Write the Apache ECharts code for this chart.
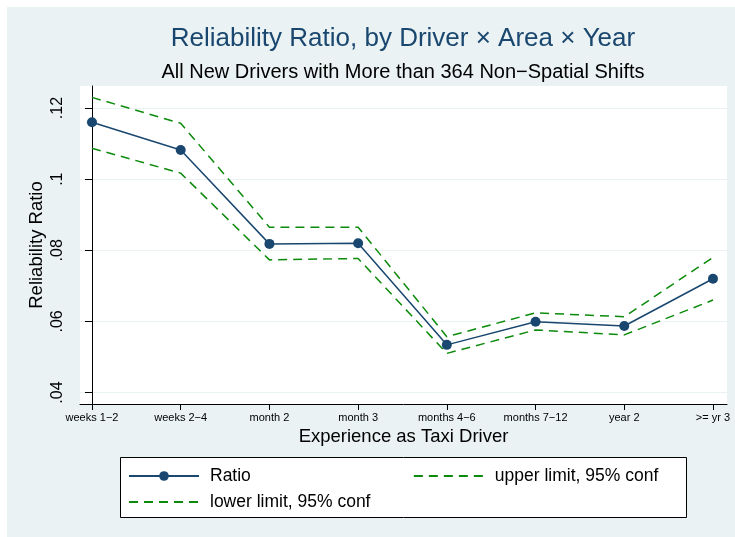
<!DOCTYPE html>
<html>
<head>
<meta charset="utf-8">
<script src="https://cdn.jsdelivr.net/npm/echarts@6/dist/echarts.min.js"></script>
<style>
  html, body { margin: 0; padding: 0; background: #fff; }
  #app { position: absolute; left: 7px; top: 7px; width: 728px; height: 530px; }
</style>
</head>
<body>
<div id="app"></div>
<script>
// experience categories along x
const categories = ["weeks 1\u22122", "weeks 2\u22124", "month 2", "month 3",
  "months 4\u22126", "months 7\u221212", "year 2", ">= yr 3"];

// reliability ratio and its 95% confidence band
const ratio = [0.116, 0.1082, 0.0818, 0.0820, 0.0534, 0.0599, 0.0587, 0.0720];
const upper = [0.1230, 0.1157, 0.0865, 0.0865, 0.0557, 0.0624, 0.0613, 0.0780];
const lower = [0.1087, 0.1017, 0.0773, 0.0777, 0.0510, 0.0576, 0.0562, 0.0660];

const yTicks = [0.04, 0.06, 0.08, 0.1, 0.12];
const yTickLabels = [".04", ".06", ".08", ".1", ".12"];

const FONT = "Liberation Sans, Arial, Helvetica, sans-serif";
const NAVY = "#1a476f";
const GREEN = "#0b8a0b";

function pairs(values) {
  return values.map((v, i) => [i, v]);
}

// dashed series: hide the dot ECharts puts in a line legend icon
const noDot = { opacity: 0 };

const chart = echarts.init(document.getElementById("app"));

chart.setOption({
  backgroundColor: "#eaf2f3",
  animation: false,
  textStyle: { fontFamily: FONT },
  title: [
    {
      text: "Reliability Ratio, by Driver \u00d7 Area \u00d7 Year",
      left: 396, top: 19, padding: 0, textAlign: "center",
      textStyle: { color: NAVY, fontSize: 26, fontWeight: "normal", fontFamily: FONT }
    },
    {
      text: "All New Drivers with More than 364 Non\u2212Spatial Shifts",
      left: 396, top: 55, padding: 0, textAlign: "center",
      textStyle: { color: "#000", fontSize: 20, fontWeight: "normal", fontFamily: FONT }
    }
  ],
  grid: {
    left: 73, right: 8, top: 79, bottom: 133,
    show: true, backgroundColor: "#fff", borderWidth: 0
  },
  xAxis: {
    type: "value",
    min: -0.135, max: 7.158,
    name: "Experience as Taxi Driver",
    nameLocation: "middle",
    nameGap: 23,
    nameMoveOverlap: false,
    nameTextStyle: { color: "#000", fontSize: 18.5, fontFamily: FONT },
    axisLine: { lineStyle: { color: "#000", width: 1 } },
    axisTick: { length: 6, customValues: categories.map((c, i) => i), lineStyle: { color: "#000" } },
    axisLabel: {
      customValues: categories.map((c, i) => i),
      formatter: v => categories[Math.round(v)],
      color: "#000", fontSize: 11, margin: 8, fontFamily: FONT
    },
    splitLine: { show: false }
  },
  yAxis: {
    type: "value",
    min: 0.03677, max: 0.1262,
    name: "Reliability Ratio",
    nameLocation: "middle",
    nameRotate: 90,
    nameGap: 34,
    nameMoveOverlap: false,
    nameTextStyle: { color: "#000", fontSize: 18.5, fontFamily: FONT },
    axisLine: { show: true, lineStyle: { color: "#000", width: 1 } },
    axisTick: { show: true, length: 7, customValues: yTicks, lineStyle: { color: "#000" } },
    axisLabel: {
      customValues: yTicks,
      rotate: 90,
      formatter: v => yTickLabels[yTicks.findIndex(t => Math.abs(t - v) < 1e-6)],
      color: "#000", fontSize: 16, margin: 14, fontFamily: FONT
    },
    splitLine: { show: true, lineStyle: { color: "#eaf2f3", width: 1 } }
  },
  legend: [
    {
      data: ["Ratio", { name: "upper limit, 95% conf", itemStyle: noDot }],
      left: 121, top: 460, padding: 0,
      itemWidth: 70, itemHeight: 12, itemGap: 162,
      textStyle: { color: "#000", fontSize: 17.5, padding: [0, 0, 0, 6], fontFamily: FONT }
    },
    {
      data: [{ name: "lower limit, 95% conf", itemStyle: noDot }],
      left: 121, top: 486, padding: 0,
      itemWidth: 70, itemHeight: 12,
      textStyle: { color: "#000", fontSize: 17.5, padding: [0, 0, 0, 6], fontFamily: FONT }
    }
  ],
  graphic: [
    {
      type: "rect", z: 0,
      shape: { x: 113.5, y: 450.5, width: 566, height: 60 },
      style: { fill: "#fff", stroke: "#000", lineWidth: 1 }
    }
  ],
  series: [
    {
      name: "Ratio", type: "line", data: pairs(ratio),
      symbol: "circle", symbolSize: 10, showSymbol: true,
      itemStyle: { color: NAVY },
      lineStyle: { color: NAVY, width: 1.5 },
      z: 5
    },
    {
      name: "upper limit, 95% conf", type: "line", data: pairs(upper),
      symbol: "none",
      itemStyle: { color: GREEN },
      lineStyle: { color: GREEN, width: 1.5, type: [9, 6] }
    },
    {
      name: "lower limit, 95% conf", type: "line", data: pairs(lower),
      symbol: "none",
      itemStyle: { color: GREEN },
      lineStyle: { color: GREEN, width: 1.5, type: [9, 6] }
    }
  ]
});

window.onresize = function () {
  chart.resize();
};
</script>
</body>
</html>
